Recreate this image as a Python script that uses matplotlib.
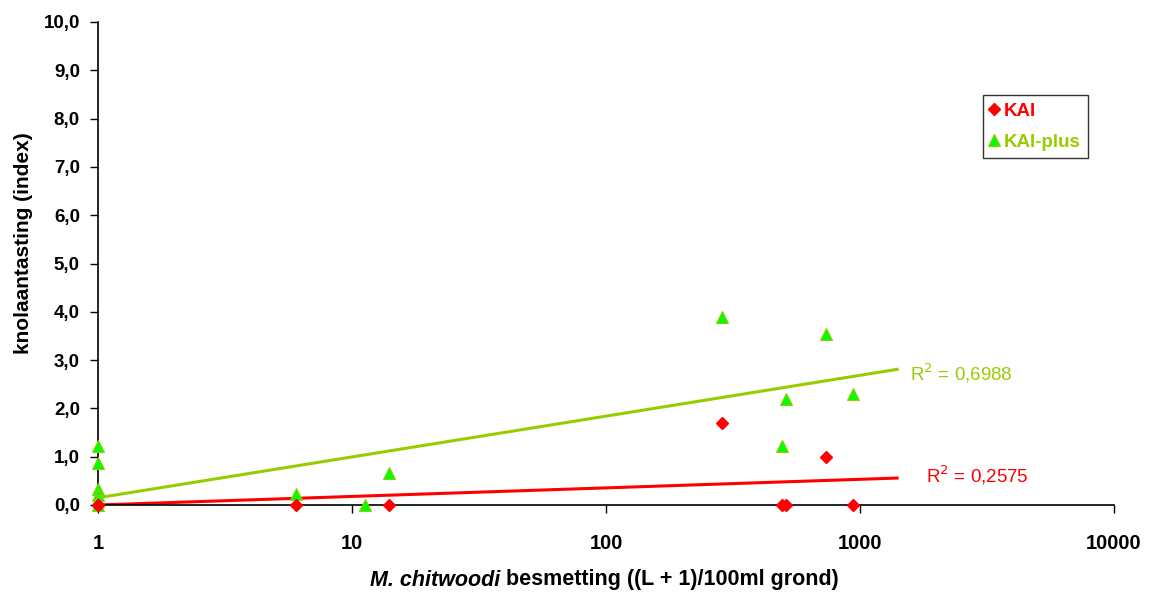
import numpy as np
import matplotlib
matplotlib.use("Agg")
import matplotlib.pyplot as plt

plt.rcParams['font.family'] = ['Liberation Sans', 'DejaVu Sans']

# data
kai_x = [1, 1, 6, 14, 286, 492, 511, 735, 938]
kai_y = [0, 0, 0, 0, 1.7, 0, 0, 1.0, 0]
plus_x = [1, 1, 1, 1, 1, 1, 6, 11.2, 14, 286, 492, 511, 735, 938]
plus_y = [1.22, 0.87, 0.33, 0.2, 0.1, 0, 0.22, 0, 0.66, 3.9, 1.23, 2.2, 3.55, 2.3]

# logarithmic trend lines (y = a*ln(x) + b)
kai_a, kai_b = 0.077, 0.0
plus_a, plus_b = 0.367, 0.15
trend_end = 1400
kai_r2 = "0,2575"
plus_r2 = "0,6988"

red = "#FF0000"
lime = "#99CC00"
green = "#00FF00"

fig = plt.figure(figsize=(11.64, 5.94), dpi=100)
ax = fig.add_axes([98/1164, 1-505/594, (1114-98)/1164, (505-22)/594])

xt = np.logspace(0, np.log10(trend_end), 200)
ax.plot(xt, kai_a*np.log(xt) + kai_b, color=red, lw=2.2, zorder=2)
ax.plot(xt, plus_a*np.log(xt) + plus_b, color=lime, lw=2.2, zorder=2)

ax.plot(kai_x, kai_y, ls='none', marker='D', ms=6, color=red, mec=red,
        label='KAI', clip_on=False, zorder=4)
ax.plot(plus_x, plus_y, ls='none', marker='^', ms=8, color=green, mec=lime, mew=0.8,
        label='KAI-plus', clip_on=False, zorder=3)

ax.set_xscale('log')
ax.set_xlim(1, 10000)
ax.set_ylim(0, 10)
ax.set_xticks([1, 10, 100, 1000, 10000])
ax.set_xticklabels(['1', '10', '100', '1000', '10000'])
ax.xaxis.set_minor_locator(matplotlib.ticker.NullLocator())
ax.set_yticks(np.arange(0, 10.1, 1))
ax.set_yticklabels([f"{v:.1f}".replace('.', ',') for v in np.arange(0, 10.1, 1)])

for lab in ax.get_xticklabels():
    lab.set_fontweight('bold')
    lab.set_fontsize(14.5)
for lab in ax.get_yticklabels():
    lab.set_fontweight('bold')
    lab.set_fontsize(13.5)
ax.tick_params(axis='x', direction='out', length=6, width=1, pad=15)
ax.tick_params(axis='y', direction='out', length=6, width=1, pad=7)
ax.spines['top'].set_visible(False)
ax.spines['right'].set_visible(False)
ax.spines['left'].set_linewidth(1.2)
ax.spines['bottom'].set_linewidth(1.2)

fig.text(24/1164, 1-243/594, 'knolaantasting (index)', fontsize=15, fontweight='bold',
         rotation=90, ha='center', va='center')

# x label: italic part + normal part
t1 = fig.text(0.5, 1-580/594, 'M. chitwoodi', fontsize=15.5, fontweight='bold',
              style='italic', ha='left', va='center')
t2 = fig.text(0.5, 1-580/594, ' besmetting ((L + 1)/100ml grond)', fontsize=15.5,
              fontweight='bold', ha='left', va='center')
fig.canvas.draw()
r = fig.canvas.get_renderer()
w1 = t1.get_window_extent(r).width
w2 = t2.get_window_extent(r).width
start = 604 - (w1 + w2) / 2
t1.set_x(start / 1164)
t2.set_x((start + w1) / 1164)

ax.text(trend_end*1.12, plus_a*np.log(trend_end) + plus_b - 0.08, 'R$^2$ = ' + plus_r2,
        color=lime, fontsize=13.5, va='center', ha='left')
ax.text(trend_end*1.30, kai_a*np.log(trend_end) + kai_b + 0.05, 'R$^2$ = ' + kai_r2,
        color=red, fontsize=13.5, va='center', ha='left')

leg = ax.legend(loc='upper left', bbox_to_anchor=(983/1164, 1-95/594),
                bbox_transform=fig.transFigure, borderaxespad=0, frameon=True,
                fancybox=False, handlelength=0.4, handletextpad=0.3, borderpad=0.4,
                labelspacing=0.75, prop={'weight': 'bold', 'size': 13.5})
leg.get_frame().set_edgecolor('black')
leg.get_frame().set_linewidth(1)
for txt, c in zip(leg.get_texts(), [red, lime]):
    txt.set_color(c)

fig.savefig('out.png', dpi=100)
